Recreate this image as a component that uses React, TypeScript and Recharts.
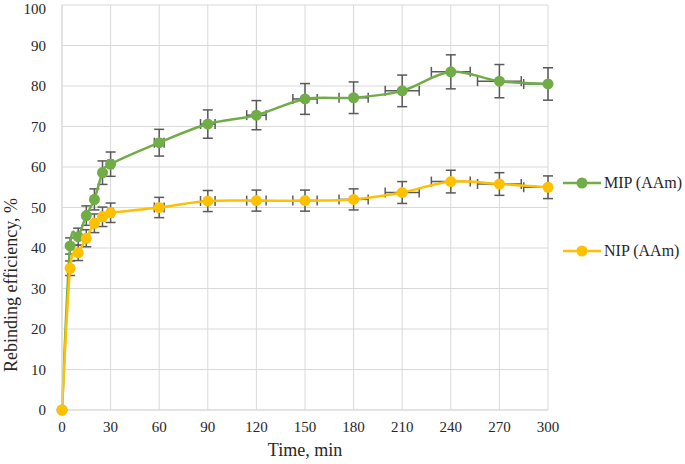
import {
  CartesianGrid,
  ComposedChart,
  ErrorBar,
  Legend,
  Line,
  Scatter,
  XAxis,
  YAxis,
} from "recharts";

// time points, min
const times = [0, 5, 10, 15, 20, 25, 30, 60, 90, 120, 150, 180, 210, 240, 270, 300];
// rebinding efficiency, %
const mipValues = [0, 40.5, 42.8, 48, 52, 58.6, 60.7, 66, 70.6, 72.8, 76.8, 77.1, 78.8, 83.5, 81.2, 80.5];
const nipValues = [0, 35, 38.8, 42.4, 46.1, 47.7, 48.7, 50, 51.6, 51.7, 51.7, 52, 53.7, 56.4, 55.8, 55];
// error bars
const mipErr = [0, 2, 2.1, 2.4, 2.6, 2.9, 3, 3.3, 3.5, 3.6, 3.8, 3.9, 3.9, 4.2, 4.1, 4];
const nipErr = [0, 1.8, 1.9, 2.1, 2.3, 2.4, 2.4, 2.5, 2.6, 2.6, 2.6, 2.6, 2.7, 2.8, 2.8, 2.8];
// [left, right]; the right half at 300 is cut off by the plot edge
const timeErr = [
  [0, 0], [0.25, 0.25], [0.5, 0.5], [0.75, 0.75], [1, 1], [1.25, 1.25], [1.5, 1.5], [3, 3],
  [4.5, 4.5], [6, 6], [7.5, 7.5], [9, 9], [10.5, 10.5], [12, 12], [13.5, 13.5], [15, 0],
];

const xTicks = [0, 30, 60, 90, 120, 150, 180, 210, 240, 270, 300];
const yTicks = [0, 10, 20, 30, 40, 50, 60, 70, 80, 90, 100];

const series = [
  { key: "mip", err: "mipErr", name: "MIP (AAm)", color: "#70AD47" },
  { key: "nip", err: "nipErr", name: "NIP (AAm)", color: "#FFC000" },
];

const rows = times.map((t, i) => ({
  t,
  mip: mipValues[i],
  nip: nipValues[i],
  mipErr: mipErr[i],
  nipErr: nipErr[i],
  tErr: timeErr[i],
}));

const font = "Liberation Serif, Times New Roman, serif";
const grid = "#D9D9D9";
const tickStyle = { fontFamily: font, fontSize: 15, fill: "#262626" };

// Excel-style smoothed line (Catmull-Rom → Bezier) as a d3 curve factory
const excelSmooth = (context: any) => {
  let pts: number[][] = [];
  return {
    areaStart() {},
    areaEnd() {},
    lineStart() {
      pts = [];
    },
    point(x: number, y: number) {
      pts.push([+x, +y]);
    },
    lineEnd() {
      if (!pts.length) return;
      context.moveTo(pts[0][0], pts[0][1]);
      for (let i = 0; i < pts.length - 1; i++) {
        const p0 = pts[Math.max(i - 1, 0)];
        const p1 = pts[i];
        const p2 = pts[i + 1];
        const p3 = pts[Math.min(i + 2, pts.length - 1)];
        context.bezierCurveTo(
          p1[0] + (p2[0] - p0[0]) / 6,
          p1[1] + (p2[1] - p0[1]) / 6,
          p2[0] - (p3[0] - p1[0]) / 6,
          p2[1] - (p3[1] - p1[1]) / 6,
          p2[0],
          p2[1]
        );
      }
    },
  };
};

const LegendBox = () => (
  <div style={{ fontFamily: font, fontSize: 16, color: "#262626" }}>
    {series.map((s, i) => (
      <div
        key={s.key}
        style={{ display: "flex", alignItems: "center", height: 20, marginTop: i ? 48 : 0 }}
      >
        <svg width={42} height={14}>
          <line x1={2} y1={7} x2={40} y2={7} stroke={s.color} strokeWidth={2.5} />
          <circle cx={21} cy={7} r={5.5} fill={s.color} />
        </svg>
        <span style={{ marginLeft: 1 }}>{s.name}</span>
      </div>
    ))}
  </div>
);

export default function App() {
  return (
    <div style={{ position: "absolute", left: 0, top: 0, fontFamily: font }}>
      <ComposedChart
        width={685}
        height={464}
        data={rows}
        margin={{ top: 5, right: 137, bottom: 0, left: 0 }}
      >
        <CartesianGrid stroke={grid} strokeWidth={1} />
        <XAxis
          dataKey="t"
          type="number"
          domain={[0, 300]}
          ticks={xTicks}
          height={54}
          tickSize={0}
          tickMargin={11}
          axisLine={{ stroke: grid }}
          tick={tickStyle}
          label={{
            value: "Time, min",
            position: "insideBottom",
            offset: 8,
            style: { fontFamily: font, fontSize: 18, fill: "#262626" },
          }}
        />
        <YAxis
          type="number"
          domain={[0, 100]}
          ticks={yTicks}
          width={62}
          tickSize={0}
          tickMargin={16}
          axisLine={{ stroke: grid }}
          tick={tickStyle}
          label={{
            content: () => (
              <text
                x={0}
                y={0}
                transform="translate(17, 285) rotate(-90)"
                textAnchor="middle"
                style={{ fontFamily: font, fontSize: 18, fill: "#262626" }}
              >
                Rebinding efficiency, %
              </text>
            ),
          }}
        />
        {series.map((s) => (
          <Scatter
            key={`err-${s.key}`}
            dataKey={s.key}
            name={s.name}
            fill={s.color}
            isAnimationActive={false}
            legendType="none"
            shape={() => <g />}
          >
            <ErrorBar dataKey="tErr" direction="x" width={5} stroke="#595959" strokeWidth={1.5} />
            <ErrorBar dataKey={s.err} direction="y" width={5} stroke="#595959" strokeWidth={1.5} />
          </Scatter>
        ))}
        {series.map((s) => (
          <Line
            key={`line-${s.key}`}
            dataKey={s.key}
            name={s.name}
            type={excelSmooth as any}
            stroke={s.color}
            strokeWidth={2.5}
            dot={{ r: 5.5, fill: s.color, stroke: s.color, strokeWidth: 0 }}
            activeDot={false}
            isAnimationActive={false}
          />
        ))}
        <Legend
          layout="horizontal"
          align="center"
          verticalAlign="middle"
          content={() => <LegendBox />}
          wrapperStyle={{ left: 561, top: 173, width: 124 }}
        />
      </ComposedChart>
    </div>
  );
}
